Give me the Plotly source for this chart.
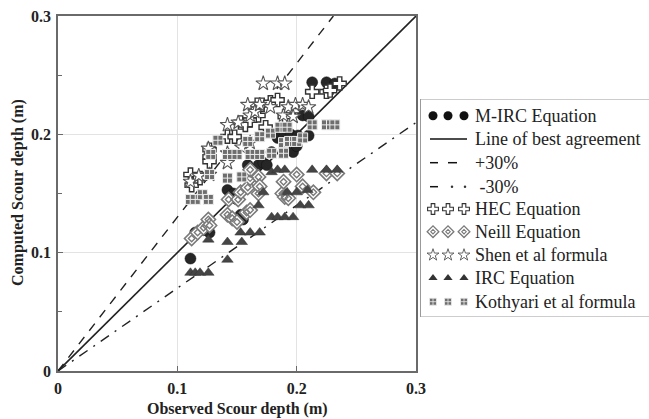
import plotly.graph_objects as go

# ---------------- data ----------------
mirc_x = [0.111,0.115,0.122,0.126,0.127,0.142,0.147,0.150,0.153,0.155,0.159,0.161,0.168,0.168,0.172,0.175,0.179,0.184,0.189,0.190,0.195,0.197,0.200,0.201,0.205,0.210,0.210,0.213,0.225,0.232]
mirc_y = [0.095,0.117,0.119,0.123,0.117,0.153,0.150,0.145,0.132,0.128,0.174,0.163,0.174,0.164,0.176,0.174,0.185,0.197,0.197,0.190,0.200,0.185,0.190,0.199,0.216,0.199,0.215,0.244,0.244,0.243]

hec_x = [0.111,0.112,0.119,0.127,0.127,0.127,0.142,0.148,0.153,0.157,0.161,0.167,0.168,0.171,0.174,0.178,0.184,0.190,0.197,0.213,0.225,0.228,0.236]
hec_y = [0.166,0.157,0.163,0.187,0.181,0.177,0.198,0.198,0.210,0.208,0.212,0.225,0.216,0.225,0.206,0.227,0.229,0.215,0.220,0.236,0.236,0.237,0.243]

neill_x = [0.112,0.117,0.122,0.126,0.127,0.142,0.143,0.146,0.150,0.151,0.153,0.158,0.159,0.161,0.161,0.161,0.168,0.168,0.169,0.188,0.189,0.190,0.193,0.200,0.205,0.214,0.225,0.234]
neill_y = [0.112,0.117,0.121,0.128,0.123,0.132,0.145,0.129,0.126,0.145,0.151,0.134,0.155,0.136,0.163,0.170,0.164,0.150,0.156,0.150,0.160,0.147,0.146,0.166,0.156,0.151,0.167,0.167]

shen_x = [0.111,0.118,0.126,0.127,0.142,0.142,0.142,0.151,0.154,0.159,0.161,0.161,0.165,0.169,0.172,0.178,0.184,0.189,0.190,0.193,0.197,0.199,0.205,0.210]
shen_y = [0.160,0.165,0.188,0.166,0.184,0.176,0.208,0.210,0.189,0.225,0.216,0.193,0.219,0.225,0.243,0.223,0.243,0.216,0.243,0.223,0.215,0.225,0.225,0.223]

irc_x = [0.111,0.115,0.119,0.126,0.142,0.126,0.142,0.154,0.153,0.161,0.169,0.168,0.179,0.184,0.190,0.197,0.203,0.210,0.172,0.192,0.200,0.209,0.179,0.184,0.190,0.213,0.225,0.234]
irc_y = [0.083,0.083,0.083,0.083,0.094,0.111,0.109,0.109,0.117,0.117,0.117,0.140,0.130,0.130,0.130,0.130,0.140,0.140,0.151,0.151,0.151,0.153,0.168,0.170,0.170,0.170,0.170,0.170]

koth_x = [0.111,0.115,0.121,0.126,0.127,0.128,0.134,0.142,0.154,0.142,0.150,0.161,0.169,0.159,0.169,0.178,0.186,0.192,0.189,0.194,0.200,0.205,0.179,0.189,0.213,0.225,0.232]
koth_y = [0.145,0.145,0.149,0.145,0.166,0.183,0.195,0.163,0.164,0.183,0.183,0.183,0.183,0.194,0.198,0.201,0.206,0.206,0.193,0.194,0.194,0.197,0.184,0.184,0.208,0.208,0.208]

ref_x = [0.0, 0.3]
plus30_factor = 1.3
minus30_factor = 0.7

tick_vals = [0, 0.1, 0.2, 0.3]
tick_text = ["0", "0.1", "0.2", "0.3"]

legend_labels = ["M-IRC Equation", "Line of best agreement", "+30%", " -30%",
                 "HEC Equation", "Neill Equation", "Shen et al formula",
                 "IRC Equation", "Kothyari et al formula"]

# ---------------- figure ----------------
W, H = 649, 419
L, R, T, B = 58, 0, 16, 48
pw = W - L - R
ph = H - T - B
main_right = 416
FONT = "Liberation Serif, Times New Roman, serif"
GRAY_N = "#7a7a7a"

fig = go.Figure()

# reference lines
fig.add_trace(go.Scatter(x=ref_x, y=ref_x, mode="lines",
                         line=dict(color="#222222", width=1.6), showlegend=False))
x_p = [0.0, 0.3 / plus30_factor]
fig.add_trace(go.Scatter(x=x_p, y=[v * plus30_factor for v in x_p], mode="lines",
                         line=dict(color="#222222", width=1.4, dash="9px,8px"), showlegend=False))
fig.add_trace(go.Scatter(x=ref_x, y=[v * minus30_factor for v in ref_x], mode="lines",
                         line=dict(color="#222222", width=1.4, dash="10px,7px,2px,7px"), showlegend=False))

# series
fig.add_trace(go.Scatter(x=mirc_x, y=mirc_y, mode="markers", showlegend=False,
                         marker=dict(symbol="circle", size=11, color="#262626",
                                     line=dict(color="#111111", width=0.5))))
fig.add_trace(go.Scatter(x=hec_x, y=hec_y, mode="markers", showlegend=False,
                         marker=dict(symbol="cross", size=11, color="white",
                                     line=dict(color="#333333", width=1.4))))
fig.add_trace(go.Scatter(x=neill_x, y=neill_y, mode="markers", showlegend=False,
                         marker=dict(symbol="diamond", size=11, color="white",
                                     line=dict(color=GRAY_N, width=1.6))))
fig.add_trace(go.Scatter(x=neill_x, y=neill_y, mode="markers", showlegend=False,
                         marker=dict(symbol="diamond-open", size=5, color=GRAY_N,
                                     line=dict(color=GRAY_N, width=1.4))))
fig.add_trace(go.Scatter(x=shen_x, y=shen_y, mode="markers", showlegend=False,
                         marker=dict(symbol="star", size=11, color="white",
                                     line=dict(color="#555555", width=1.1))))
fig.add_trace(go.Scatter(x=irc_x, y=irc_y, mode="markers", showlegend=False,
                         marker=dict(symbol="triangle-up", size=10, color="#454545",
                                     line=dict(color="#333333", width=0.5))))
fig.add_trace(go.Scatter(x=koth_x, y=koth_y, mode="markers", showlegend=False,
                         marker=dict(symbol="square-cross", size=10, color="#6e6e6e",
                                     line=dict(color="#eeeeee", width=1))))

# ---------------- custom legend (MATLAB style, three markers) ----------------
lx = [433, 448, 464]
row_y = [115.7, 139, 162.7, 186.7, 209, 231.7, 255, 278, 301.7]
text_x = 473

def leg_markers(yrow, marker):
    fig.add_trace(go.Scatter(x=lx, y=[yrow] * 3, xaxis="x2", yaxis="y2", mode="markers",
                             marker=marker, showlegend=False, hoverinfo="skip"))

leg_markers(row_y[0], dict(symbol="circle", size=9, color="#111111"))
leg_markers(row_y[4], dict(symbol="cross", size=9, color="white", line=dict(color="#333333", width=1.1)))
leg_markers(row_y[5], dict(symbol="diamond", size=9, color="white", line=dict(color=GRAY_N, width=1.3)))
leg_markers(row_y[5], dict(symbol="diamond-open", size=3.5, color=GRAY_N, line=dict(color=GRAY_N, width=1.1)))
leg_markers(row_y[6], dict(symbol="star", size=9, color="white", line=dict(color="#555555", width=0.9)))
leg_markers(row_y[7], dict(symbol="triangle-up", size=8, color="#333333"))
leg_markers(row_y[8], dict(symbol="square-cross", size=7, color="#6e6e6e", line=dict(color="#eeeeee", width=0.8)))
# dots of the dash-dot sample
fig.add_trace(go.Scatter(x=[452, 465], y=[row_y[3]] * 2, xaxis="x2", yaxis="y2", mode="markers",
                         marker=dict(symbol="circle", size=2.5, color="#333333"),
                         showlegend=False, hoverinfo="skip"))

shapes = []
shapes.append(dict(type="line", xref="x2", yref="y2", x0=430, x1=467, y0=row_y[1], y1=row_y[1],
                   line=dict(color="#111111", width=1.5)))
for a, b in [(430, 438), (448, 457)]:
    shapes.append(dict(type="line", xref="x2", yref="y2", x0=a, x1=b, y0=row_y[2], y1=row_y[2],
                       line=dict(color="#111111", width=1.5)))
shapes.append(dict(type="line", xref="x2", yref="y2", x0=430, x1=438, y0=row_y[3], y1=row_y[3],
                   line=dict(color="#111111", width=1.5)))
# legend frame
shapes.append(dict(type="rect", xref="x2", yref="y2", x0=420.5, x1=660, y0=99, y1=317,
                   line=dict(color="#9a9a9a", width=1)))

annotations = []
for lab, yy in zip(legend_labels, row_y):
    annotations.append(dict(xref="x2", yref="y2", x=text_x, y=yy, text=lab, showarrow=False,
                            xanchor="left", yanchor="middle",
                            font=dict(family=FONT, size=18, color="#222222")))

# axis titles
annotations.append(dict(xref="paper", yref="paper", x=(237 - L) / pw, y=(H - B - 409) / ph,
                        text="<b>Observed Scour depth (m)</b>", showarrow=False,
                        xanchor="center", yanchor="middle",
                        font=dict(family=FONT, size=16, color="#222222")))
annotations.append(dict(xref="paper", yref="paper", x=(18 - L) / pw, y=(H - B - 193) / ph,
                        text="<b>Computed Scour depth (m)</b>", showarrow=False, textangle=-90,
                        xanchor="center", yanchor="middle",
                        font=dict(family=FONT, size=16, color="#222222")))

axis_common = dict(range=[0, 0.3], tickvals=tick_vals, ticktext=tick_text,
                   showgrid=True, gridcolor="#e3e3e3", gridwidth=1,
                   showline=True, linecolor="#6a6a6a", linewidth=1.5, mirror=True,
                   ticks="inside", ticklen=5, tickcolor="#6a6a6a",
                   zeroline=False, automargin=False,
                   tickfont=dict(family=FONT, size=16, color="#222222", weight="bold"))

fig.update_layout(
    width=W, height=H,
    margin=dict(l=L, r=R, t=T, b=B, autoexpand=False),
    paper_bgcolor="white", plot_bgcolor="white",
    showlegend=False,
    xaxis=dict(**axis_common, domain=[0, (main_right - L) / pw], ticklabelstandoff=2),
    yaxis=dict(**axis_common, ticklabelstandoff=2,
               minor=dict(tickvals=[0.05, 0.15, 0.25], ticks="inside", ticklen=4,
                          tickcolor="#6a6a6a", showgrid=False)),
    xaxis2=dict(domain=[(420 - L) / pw, 1.0], range=[420, 649], visible=False,
                anchor="y2", fixedrange=True),
    yaxis2=dict(domain=[(H - B - 317) / ph, (H - B - 99) / ph],
                range=[317, 99], visible=False, anchor="x2", fixedrange=True),
    shapes=shapes,
    annotations=annotations,
)

fig.write_html("out.html", config={"displayModeBar": False},
               post_script="document.body.style.margin='0';document.body.style.padding='0';")
